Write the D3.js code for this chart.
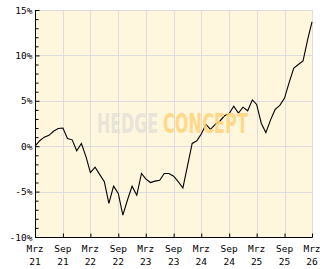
<!DOCTYPE html>
<html>
<head>
<meta charset="utf-8">
<script src="https://cdn.jsdelivr.net/npm/d3@7"></script>
<style>
  body { margin: 0; background: #fff; }
  text { font-family: "DejaVu Sans Mono", monospace; font-size: 9.5px; fill: #000; }
</style>
</head>
<body>
<div class="chartdiv"></div>
<script>
const WIDTH = 332, HEIGHT = 269;
const margin = { top: 10, right: 20, bottom: 32, left: 35 };

// monthly performance in %, starting Mar 2021
const startMonth = "2021-03";
const values = [
  0.0, 0.6, 1.0, 1.2, 1.65, 1.95, 2.0, 0.85, 0.7, -0.5, 0.3, -1.2,
  -2.9, -2.3, -3.1, -3.9, -6.3, -4.4, -5.2, -7.6, -5.9, -4.4, -5.4, -3.0,
  -3.6, -4.0, -3.85, -3.75, -3.0, -3.0, -3.3, -3.9, -4.6, -2.2, 0.3, 0.6,
  1.35, 2.4, 1.85, 2.4, 2.75, 3.35, 3.6, 4.4, 3.65, 4.3, 3.9, 5.1,
  4.6, 2.5, 1.5, 2.9, 4.05, 4.5, 5.3, 7.0, 8.6, 9.0, 9.4, 11.8,
  13.7
];
const xTickMonths = ["2021-03", "2021-09", "2022-03", "2022-09", "2023-03", "2023-09",
  "2024-03", "2024-09", "2025-03", "2025-09", "2026-03"];
const xTickLabels = ["Mrz", "Sep", "Mrz", "Sep", "Mrz", "Sep", "Mrz", "Sep", "Mrz", "Sep", "Mrz"];
const xTickYears = ["21", "21", "22", "22", "23", "23", "24", "24", "25", "25", "26"];
const yTicks = [-10, -5, 0, 5, 10, 15];
const watermark = [
  { word: "HEDGE", x: 97, width: 61, color: "#e4e1d8" },
  { word: "CONCEPT", x: 163, width: 85, color: "#ffd47a" }
];

const parseMonth = d3.timeParse("%Y-%m");
const start = parseMonth(startMonth);
const data = values.map((v, i) => ({ date: d3.timeMonth.offset(start, i), value: v }));
const tickDates = xTickMonths.map(parseMonth);

const x = d3.scaleTime()
  .domain([tickDates[0], tickDates[tickDates.length - 1]])
  .range([margin.left, WIDTH - margin.right]);
const y = d3.scaleLinear()
  .domain([-10, 15])
  .range([HEIGHT - margin.bottom, margin.top]);

var svg = d3.select(".chartdiv")
  .append("svg")
  .attr("width", WIDTH)
  .attr("height", HEIGHT);

// plot background
svg.append("rect")
  .attr("x", x.range()[0])
  .attr("y", y.range()[1])
  .attr("width", x.range()[1] - x.range()[0])
  .attr("height", y.range()[0] - y.range()[1])
  .attr("fill", "#fff6de");

// grid
svg.append("g")
  .selectAll("line")
  .data(tickDates)
  .join("line")
  .attr("x1", d => Math.round(x(d)) + 0.5).attr("x2", d => Math.round(x(d)) + 0.5)
  .attr("y1", y.range()[1]).attr("y2", y.range()[0])
  .attr("stroke", "#dcdcdc");
svg.append("g")
  .selectAll("line")
  .data(yTicks)
  .join("line")
  .attr("x1", x.range()[0]).attr("x2", x.range()[1])
  .attr("y1", d => Math.round(y(d)) + 0.5).attr("y2", d => Math.round(y(d)) + 0.5)
  .attr("stroke", "#dcdcdc");

// line
const line = d3.line()
  .x(d => x(d.date))
  .y(d => y(d.value));
svg.append("path")
  .datum(data)
  .attr("d", line)
  .attr("fill", "none")
  .attr("stroke", "#000")
  .attr("stroke-width", 1.1);

// watermark, squeezed horizontally to fit
svg.append("g")
  .attr("opacity", 0.85)
  .selectAll("text")
  .data(watermark)
  .join("text")
  .style("font-family", "'DejaVu Sans', sans-serif")
  .style("font-weight", "bold")
  .style("font-size", "27px")
  .style("fill", d => d.color)
  .text(d => d.word)
  .attr("transform", function(d) {
    const w = this.getComputedTextLength();
    return `translate(${d.x},133) scale(${d.width / w},1)`;
  });

// axes
const yAxis = svg.append("g")
  .attr("transform", `translate(${x.range()[0] + 0.5},0)`);
yAxis.call(d3.axisRight(y).ticks(25).tickSize(3).tickFormat(""))
  .call(g => g.select(".domain").remove());
yAxis.selectAll(".tick line").filter(d => d % 5 === 0).attr("x2", 4);
yAxis.append("line")
  .attr("y1", y.range()[1]).attr("y2", y.range()[0])
  .attr("stroke", "#000");
yAxis.selectAll(".ylab")
  .data(yTicks)
  .join("text")
  .attr("class", "ylab")
  .attr("x", -3)
  .attr("y", d => y(d) + 3.5)
  .attr("text-anchor", "end")
  .text(d => d + "%");

const xAxis = svg.append("g")
  .attr("transform", `translate(0,${y.range()[0] + 0.5})`);
xAxis.call(d3.axisTop(x).tickValues(tickDates).tickSize(4).tickFormat(""))
  .call(g => g.select(".domain").remove());
xAxis.append("line")
  .attr("x1", x.range()[0]).attr("x2", x.range()[1] + 0.5)
  .attr("stroke", "#000");
xAxis.selectAll(".xlab")
  .data(tickDates)
  .join("text")
  .attr("class", "xlab")
  .attr("x", d => x(d))
  .attr("y", 14.5)
  .attr("text-anchor", "middle")
  .text((d, i) => xTickLabels[i]);
xAxis.selectAll(".xyear")
  .data(tickDates)
  .join("text")
  .attr("class", "xyear")
  .attr("x", d => x(d))
  .attr("y", 27.5)
  .attr("text-anchor", "middle")
  .text((d, i) => xTickYears[i]);
</script>
</body>
</html>
